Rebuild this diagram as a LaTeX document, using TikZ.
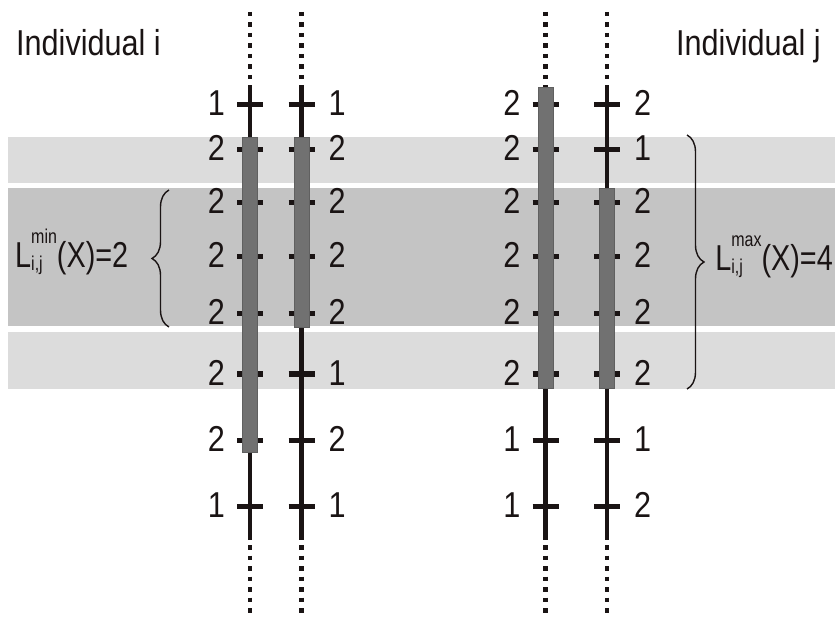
\documentclass[tikz,border=0pt]{standalone}
\usepackage{fontspec}
\setmainfont{Liberation Sans}[FakeStretch=0.85]
\newfontfamily\narrowfont{Liberation Sans}[FakeStretch=0.8]
\usetikzlibrary{decorations.pathreplacing}
\definecolor{bandlight}{HTML}{DCDCDC}
\definecolor{banddark}{HTML}{C4C4C4}
\definecolor{barg}{HTML}{717171}
\definecolor{ink}{HTML}{1A1414}
\newcommand\bigfont{\fontsize{36}{42}\selectfont}
\newcommand\smallfont{\fontsize{20}{22}\selectfont}
\newcommand\Lidx[1]{L\rlap{\raisebox{-3pt}{\smallfont i,j}}\raisebox{24pt}{\smallfont #1}}
\begin{document}
\begin{tikzpicture}[x=1pt,y=-1pt,
  chrom/.style={line width=4.5pt, draw=ink},
  dotline/.style={line width=4.5pt, draw=ink, dash pattern=on 4.5pt off 6pt},
  tickmark/.style={line width=5pt, draw=ink},
  barbox/.style={fill=barg, draw=barg!85!black, line width=0.6pt},
  lab/.style={font=\bigfont, inner sep=0pt, text=ink},
  llab/.style={font=\narrowfont\bigfont, inner sep=0pt, text=ink},
  bracestyle/.style={draw=ink, line width=1.4pt, decorate, decoration={brace, amplitude=17pt}},
]
\useasboundingbox (0,0) rectangle (835,617);
% bands
\fill[bandlight] (8,137) rectangle (835,183);
\fill[banddark] (8,188) rectangle (835,326);
\fill[bandlight] (8,332) rectangle (835,389);

% chromosome lines
\foreach \n/\x in {A/250, B/301.5, C/545.5, D/607}{
  \coordinate (\n-top) at (\x,87);
  \coordinate (\n-bot) at (\x,540);
  \coordinate (\n-dtop) at (\x,12);
  \coordinate (\n-dbot) at (\x,545);
  \coordinate (\n-end) at (\x,617);
  \draw[dotline] (\n-dtop) -- (\n-top);
  \draw[dotline] (\n-dbot) -- (\n-end);
  \draw[chrom] (\n-top) -- (\n-bot);
  \foreach \y [count=\i] in {105,150,203,257,314,374,440,506}{
    \coordinate (\n-t\i) at (\x,\y);
    \draw[tickmark] ([xshift=-13pt]\n-t\i) -- ([xshift=13pt]\n-t\i);
  }
}

% labels
\foreach \i/\a/\b/\c/\d in {1/1/1/2/2, 2/2/2/2/1, 3/2/2/2/2, 4/2/2/2/2, 5/2/2/2/2, 6/2/1/2/2, 7/2/2/1/1, 8/1/1/1/2}{
  \node[lab, anchor=base east] (la\i) at ([xshift=-25pt,yshift=-11pt]A-t\i) {\a};
  \node[lab, anchor=base west] (lb\i) at ([xshift=27pt,yshift=-11pt]B-t\i) {\b};
  \node[lab, anchor=base east] (lc\i) at ([xshift=-25pt,yshift=-11pt]C-t\i) {\c};
  \node[lab, anchor=base west] (ld\i) at ([xshift=27pt,yshift=-11pt]D-t\i) {\d};
}

% shared segments
\draw[barbox] (242.5,137) rectangle (257.5,452);
\draw[barbox] (294,137) rectangle (309,327);
\draw[barbox] (538,87) rectangle (553,388);
\draw[barbox] (599.5,188) rectangle (614.5,388);

% titles
\node[lab, anchor=base west] (indi) at (16,56) {Individual i};
\node[lab, anchor=base west] (indj) at (676,56) {Individual j};

% braces
\coordinate (bminlo) at (169,327);
\coordinate (bminhi) at (169,190);
\coordinate (bmaxhi) at (687,135);
\coordinate (bmaxlo) at (687,389);
\draw[bracestyle] (bminlo) -- (bminhi);
\draw[bracestyle] (bmaxhi) -- (bmaxlo);
\node[llab, anchor=base west] (lmin) at (15,268) {\Lidx{min}(X)=2};
\node[llab, anchor=base east] (lmax) at (833,271) {\Lidx{max}(X)=4};
\end{tikzpicture}
\end{document}
